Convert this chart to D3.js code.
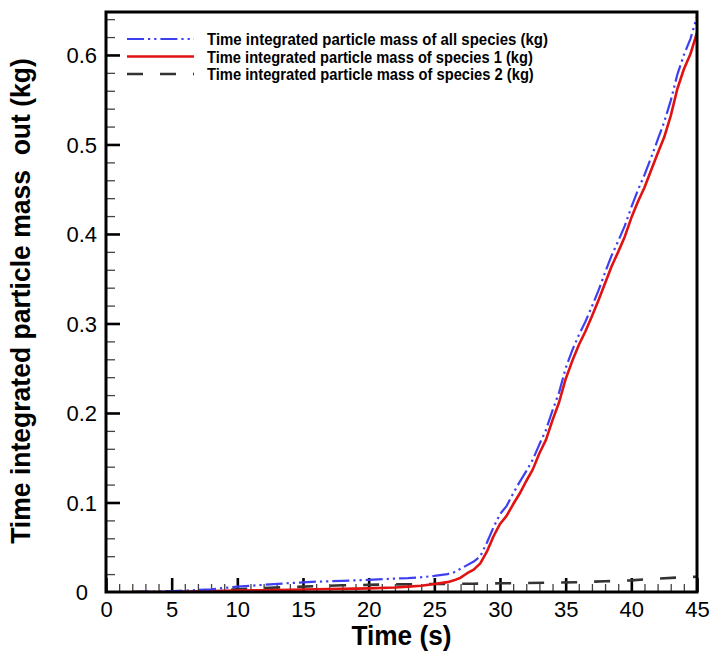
<!DOCTYPE html>
<html>
<head>
<meta charset="utf-8">
<script src="https://cdn.jsdelivr.net/npm/d3@7/dist/d3.min.js"></script>
<style>
  html, body { margin: 0; padding: 0; background: #fff; }
  svg { display: block; font-family: "Liberation Sans", Arial, sans-serif; }
</style>
</head>
<body>
<svg id="chart" width="714" height="656"></svg>
<script>
// Time samples (s)
const timeS = [2, 4, 6, 8, 10, 12, 14, 16, 18, 20, 22, 23, 24, 25, 26, 26.5, 27, 27.5, 28, 28.5,
  29, 29.5, 30, 30.5, 31, 31.5, 32, 32.5, 33, 33.5, 34, 34.5, 35, 35.5, 36, 36.5, 37, 37.5,
  38, 38.5, 39, 39.5, 40, 40.5, 41, 41.5, 42, 42.5, 43, 43.5, 44, 44.5, 45];

// Time integrated particle mass of all species (kg)
const massAll = [0.000, 0.0005, 0.0015, 0.003, 0.006, 0.008, 0.010, 0.0115, 0.0125, 0.0135, 0.015,
  0.0155, 0.0165, 0.018, 0.020, 0.022, 0.026, 0.030, 0.034, 0.040,
  0.055, 0.072, 0.087, 0.096, 0.110, 0.123, 0.135, 0.148, 0.165, 0.181, 0.203, 0.223, 0.250, 0.270,
  0.287, 0.302, 0.319, 0.337, 0.357, 0.376, 0.392, 0.409, 0.430, 0.449, 0.466, 0.485, 0.505, 0.525,
  0.549, 0.578, 0.600, 0.618, 0.643];

// Time integrated particle mass of species 1 (kg)
const massSp1 = [0.000, 0.000, 0.0005, 0.001, 0.0015, 0.002, 0.0025, 0.003, 0.0035, 0.004, 0.005,
  0.006, 0.007, 0.009, 0.011, 0.013, 0.016, 0.021, 0.025, 0.032,
  0.045, 0.062, 0.076, 0.085, 0.098, 0.110, 0.124, 0.137, 0.155, 0.170, 0.192, 0.212, 0.238, 0.258,
  0.276, 0.291, 0.308, 0.326, 0.345, 0.364, 0.380, 0.397, 0.418, 0.436, 0.452, 0.471, 0.490, 0.508,
  0.532, 0.562, 0.584, 0.601, 0.625];

// Species 2 sampled more coarsely
const timeSp2 = [2, 4, 6, 8, 10, 12, 14, 16, 18, 20, 22, 24, 26, 28, 30, 32, 34, 36, 38, 40, 42, 44, 45];
const massSp2 = [0.000, 0.0005, 0.001, 0.002, 0.003, 0.0045, 0.0055, 0.0065, 0.0075, 0.008, 0.0085,
  0.0088, 0.009, 0.0093, 0.0097, 0.010, 0.0105, 0.011, 0.012, 0.013, 0.015, 0.0165, 0.017];

const xTicks = [0, 5, 10, 15, 20, 25, 30, 35, 40, 45];
const yTicks = [0, 0.1, 0.2, 0.3, 0.4, 0.5, 0.6];
const legendLabels = [
  "Time integrated particle mass of all species (kg)",
  "Time integrated particle mass of species 1 (kg)",
  "Time integrated particle mass of species 2 (kg)"
];
const xTitle = "Time (s)";
const yTitle = "Time integrated particle mass  out (kg)";

const svg = d3.select("#chart");
const plotL = 106, plotR = 697, plotT = 12, plotB = 592;

const x = d3.scaleLinear().domain([0, 45]).range([plotL, plotR]);
const y = d3.scaleLinear().domain([0, 0.648]).range([plotB, plotT]);

// Scale a text element horizontally so it spans the given width
function fitWidth(sel, width, tx, ty, rot) {
  const w = sel.node().getComputedTextLength();
  const s = width / w;
  sel.attr("transform", `translate(${tx},${ty})${rot ? " rotate(" + rot + ")" : ""} scale(${s},1)`);
}

// Minor ticks (inward)
const xMinor = d3.range(0, 46, 1).filter(v => v % 5 !== 0);
const yMinor = d3.range(0, 33).map(i => +(i * 0.02).toFixed(2)).filter(v => Math.round(v * 100) % 10 !== 0);

svg.append("g")
  .attr("transform", `translate(0,${plotB})`)
  .call(d3.axisBottom(x).tickValues(xMinor).tickSize(-8).tickFormat(""))
  .call(g => g.select(".domain").remove())
  .call(g => g.selectAll("line").attr("stroke", "#444").attr("stroke-width", 1.3));

svg.append("g")
  .attr("transform", `translate(${plotL},0)`)
  .call(d3.axisLeft(y).tickValues(yMinor).tickSize(-9).tickFormat(""))
  .call(g => g.select(".domain").remove())
  .call(g => g.selectAll("line").attr("stroke", "#444").attr("stroke-width", 1.3));

// Major ticks and labels
const xAxis = svg.append("g")
  .attr("transform", `translate(0,${plotB})`)
  .call(d3.axisBottom(x).tickValues(xTicks).tickSize(-14).tickPadding(0).tickFormat(d3.format("d")))
  .call(g => g.select(".domain").remove());
xAxis.selectAll("line").attr("stroke", "#000").attr("stroke-width", 2.6);
xAxis.selectAll("text")
  .attr("y", 25).attr("dy", 0)
  .attr("fill", "#000").attr("font-size", 22).attr("font-family", "Liberation Sans, Arial, sans-serif");

const yAxis = svg.append("g")
  .attr("transform", `translate(${plotL},0)`)
  .call(d3.axisLeft(y).tickValues(yTicks).tickSize(-14).tickPadding(0).tickFormat(d => d === 0 ? "0" : d3.format(".1f")(d)))
  .call(g => g.select(".domain").remove());
yAxis.selectAll("line").attr("stroke", "#000").attr("stroke-width", 2.6);
yAxis.selectAll("text")
  .attr("x", d => d === 0 ? -18 : -9).attr("dy", "0.36em")
  .attr("fill", "#000").attr("font-size", 22).attr("font-family", "Liberation Sans, Arial, sans-serif");
yAxis.selectAll(".tick").filter(d => d === 0).select("line").remove();

// Series lines
const line = d3.line().x(d => x(d[0])).y(d => y(d[1]));
const series = [
  { data: d3.zip(timeS, massAll), color: "#3f3ff2", width: 2.2, dash: "17,4,2.2,4,2.2,4" },
  { data: d3.zip(timeS, massSp1), color: "#e01212", width: 2.6, dash: null },
  { data: d3.zip(timeSp2, massSp2), color: "#333", width: 2.6, dash: "16,17" }
];

const plot = svg.append("g");
plot.append("clipPath").attr("id", "clip")
  .append("rect").attr("x", plotL).attr("y", plotT - 4).attr("width", plotR - plotL + 2).attr("height", plotB - plotT + 4);

// Draw species 2 first, then species 1, then all species on top
[2, 1, 0].forEach(i => {
  const s = series[i];
  plot.append("path")
    .attr("d", line(s.data))
    .attr("fill", "none")
    .attr("stroke", s.color)
    .attr("stroke-width", s.width)
    .attr("stroke-dasharray", s.dash)
    .attr("stroke-linejoin", "round")
    .attr("clip-path", "url(#clip)");
});

// Frame
svg.append("rect")
  .attr("x", plotL).attr("y", plotT)
  .attr("width", plotR - plotL).attr("height", plotB - plotT)
  .attr("fill", "none").attr("stroke", "#000").attr("stroke-width", 3);

// Legend
const legendRows = [39, 56.5, 74];
const legendWidths = [341, 326, 327];
const legend = svg.append("g");
series.forEach((s, i) => {
  legend.append("line")
    .attr("x1", 127).attr("x2", 194)
    .attr("y1", legendRows[i]).attr("y2", legendRows[i])
    .attr("stroke", s.color).attr("stroke-width", s.width)
    .attr("stroke-dasharray", s.dash);
  const t = legend.append("text")
    .attr("x", 0).attr("y", 0)
    .attr("font-size", 17).attr("font-weight", "bold").attr("fill", "#000")
    .text(legendLabels[i]);
  fitWidth(t, legendWidths[i], 207, legendRows[i] + 6);
});

// Axis titles
const xt = svg.append("text")
  .attr("x", 0).attr("y", 0).attr("text-anchor", "middle")
  .attr("font-size", 27).attr("font-weight", "bold").attr("fill", "#000")
  .text(xTitle);
fitWidth(xt, 100, (plotL + plotR) / 2, 645);

const yt = svg.append("text")
  .attr("x", 0).attr("y", 0).attr("text-anchor", "middle")
  .attr("font-size", 27).attr("font-weight", "bold").attr("fill", "#000")
  .style("white-space", "pre")
  .text(yTitle);
fitWidth(yt, 486, 30, 301, -90);
</script>
</body>
</html>
